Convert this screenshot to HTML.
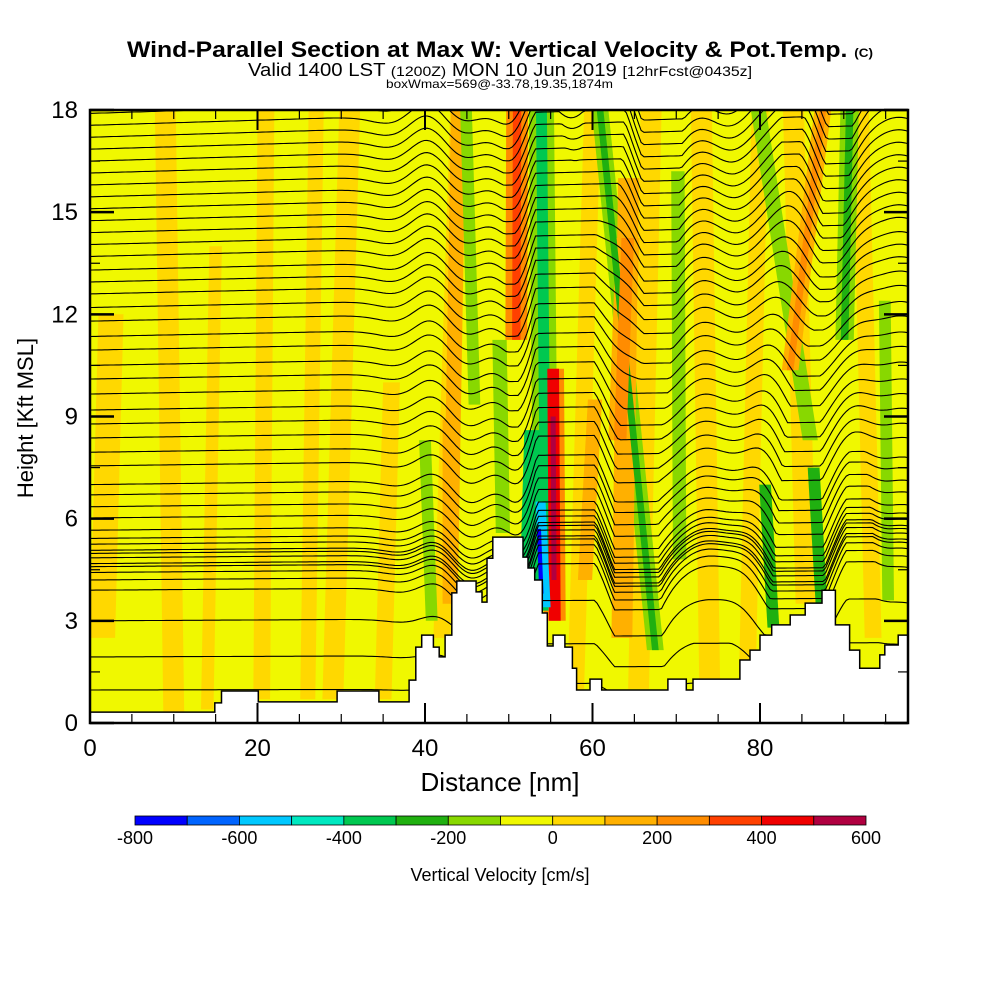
<!DOCTYPE html>
<html><head><meta charset="utf-8"><style>
body{margin:0;background:#fff;width:1000px;height:1000px;overflow:hidden}
svg{display:block;font-family:"Liberation Sans",sans-serif}
</style></head><body>
<svg id="chart" width="1000" height="1000" viewBox="0 0 1000 1000">
<g>
<text x="127" y="57" textLength="746" lengthAdjust="spacingAndGlyphs" font-size="22" font-weight="bold">Wind-Parallel Section at Max W: Vertical Velocity &amp; Pot.Temp. <tspan font-size="12">(C)</tspan></text>
<text x="248" y="76" textLength="504" lengthAdjust="spacingAndGlyphs" font-size="18">Valid 1400 LST <tspan font-size="14">(1200Z)</tspan> MON 10 Jun 2019 <tspan font-size="14">[12hrFcst@0435z]</tspan></text>
<text x="386" y="88" textLength="227" lengthAdjust="spacingAndGlyphs" font-size="12">boxWmax=569@-33.78,19.35,1874m</text>
</g>
<defs><clipPath id="plotclip"><rect x="90" y="110" width="818" height="613"/></clipPath></defs>
<g id="field" clip-path="url(#plotclip)"></g>
<g id="contours" clip-path="url(#plotclip)"></g>
<g id="terrain" clip-path="url(#plotclip)"></g>
<g id="axes"></g>
<text x="500" y="791" text-anchor="middle" font-size="26">Distance [nm]</text>
<text transform="translate(33,418) rotate(-90)" text-anchor="middle" font-size="22">Height [Kft MSL]</text>
<g id="colorbar"></g>
<text x="500" y="881" text-anchor="middle" font-size="18">Vertical Velocity [cm/s]</text>
</svg>
<script>
// ---- data ----
const cbLevels = [-800,-700,-600,-500,-400,-300,-200,-100,0,100,200,300,400,500,600];
const cbColors = ["#0000ff","#0064ff","#00c8ff","#00e8c0","#00c850","#20b010","#88d800","#f0f800","#ffd800","#ffb000","#ff8c00","#ff4000","#f00000","#b00040"];
const cbTickLabels = [-800,-600,-400,-200,0,200,400,600];
const xTicks = [0,20,40,60,80];
const yTicks = [0,3,6,9,12,15,18];
// terrain step profile (nm start, kft height)
const terrainX = [0,14.9,15.7,20.1,29.5,34.5,38.0,38.1,38.9,39.6,41.0,41.7,42.4,43.2,43.8,46.1,46.8,47.4,48.1,51.7,52.3,53.1,54.0,54.6,55.3,56.7,57.6,58.1,59.7,61.1,69.0,71.2,72.0,77.6,78.8,80.0,81.4,83.6,85.4,87.4,89.0,90.7,91.9,94.3,94.9,96.5];
const terrainH = [0.32,0.59,0.94,0.62,0.94,0.62,0.62,1.26,2.23,2.58,2.23,1.94,2.58,3.82,4.17,3.85,3.55,4.84,5.46,4.87,4.55,4.2,3.23,2.26,2.58,2.23,1.61,0.97,1.29,0.97,1.29,0.97,1.29,1.85,2.14,2.58,2.88,3.17,3.52,3.9,2.88,2.14,1.61,2.0,2.29,2.58];
// velocity bands: bottom (nm,kft), top (nm,kft), width nm, value cm/s
const bandXb = [1.5,10,14,20.5,26,29,35,42,43,58,65.5,74,78.5,85.5,93.5, 40.8,43,49.3,44.9+1,50.9,50.9,53,54.4,54.3,54.3,52.6,53.9,55.5,55.5,55.4,67.5,67.5,63.3,63.3,70.4,86,81.6,87.5,83.6,83.6,90.1,90.1,95.3,59.1,63.5];
const bandYb = [2.5,0.3,0.4,0.7,0.7,0.7,0.7,2.5,3.5,1.0,1.0,1.0,1.5,3.5,2.5, 3.0,3.6,5.58,9.35,11.25,11.25,3.3,3.4,8.0,8.0,5.0,3.8,3.0,3.0,4.2,2.14,2.14,8.3,8.3,4.8,8.3,2.8,2.8,10.36,10.36,11.25,11.25,3.6,4.2,2.5];
const bandXt = [2.5,9,15,21,27,31,36,44,44,60,67,73,80,84,92, 40.0,43,48.9,44.9,51.0,51.0,53.6,53.8,53.9,53.9,52.9,53.6,55.3,55.3,55.3,60.9,60.9,64.2,64.2,70.2,79.8,80.6,86.4,87.5,87.5,90.7,90.7,94.9,60.3,64.3];
const bandYt = [12,18,14,18,18,18,10,18,18,18,18,18,18,18,18, 8.3,8.9,11.25,18,18,18,8.6,6.5,18,18,8.0,5.7,10.4,10.4,9.0,18,18,14.24,14.24,16.2,18,7.0,7.5,18,18,18,18,12.4,9.5,16];
const bandW = [3,2.5,1.5,2,1.8,2.5,2,2,1.8,2,2.5,2.5,2,2.5,2, 1.4,1.8,1.7,1.4,2.6,1.0,3.5,1.2,3.0,1.3,1.8,0.5,2.6,1.4,0.6,2.0,0.8,2.8,1.5,1.6,1.8,1.4,1.4,2.0,0.8,2.2,0.9,1.4,1.7,2.5];
const bandV = [50,50,50,50,50,50,50,50,150,50,50,50,50,50,50, -150,150,-150,-150,250,350,-350,-550,-150,-350,-250,-750,250,450,550,-150,-250,150,250,-150,-150,-250,-250,150,250,-150,-250,-150,150,150];
// potential temperature contour base heights at left edge (kft)
const thetaBase = [0.97,1.94,3.0,3.9,4.2,4.42,4.59,4.68,4.85,4.98,5.07,5.25,5.42,5.66,6.02,6.35,6.7,7.0,7.55,7.95,8.37,8.78,9.19,9.66,10.1,10.5,10.95,11.35,11.8,12.2,12.6,12.95,13.3,13.7,14.05,14.4,14.75,15.1,15.45,15.8,16.15,16.5,16.85,17.2,17.55,17.9];
// ---- axes ----
const X0=90,X1=908,Y0=723,Y1=110, XMAX=97.67, YMAX=18;
const sx = v => X0 + (X1-X0)*v/XMAX;
const sy = v => Y0 - (Y0-Y1)*v/YMAX;
const NS="http://www.w3.org/2000/svg";
function mk(tag, parent){const e=document.createElementNS(NS,tag);parent.appendChild(e);return e;}
function colorOf(v){let i=Math.floor((v-cbLevels[0])/100);i=Math.max(0,Math.min(cbColors.length-1,i));return cbColors[i];}
const field=document.getElementById('field');
const bg=mk('rect',field);


bg.setAttribute('x',X0);bg.setAttribute('y',Y1);bg.setAttribute('width',X1-X0);bg.setAttribute('height',Y0-Y1);bg.setAttribute('fill',colorOf(-50));
const order=bandV.map((v,i)=>i).sort((a,b)=>Math.abs(bandV[a])-Math.abs(bandV[b]));
order.forEach(i=>{
 const p=mk('polygon',field);
 
 
 const w=bandW[i]/2;
 const pts=[[bandXb[i]-w,bandYb[i]],[bandXb[i]+w,bandYb[i]],[bandXt[i]+w,bandYt[i]],[bandXt[i]-w,bandYt[i]]];
 p.setAttribute('points',pts.map(q=>sx(q[0]).toFixed(1)+','+sy(q[1]).toFixed(1)).join(' '));
 p.setAttribute('fill',colorOf(bandV[i]));
});
// contours
const cg=document.getElementById('contours');
function bandCenterAt(i,h){const t=(h-bandYb[i])/(bandYt[i]-bandYb[i]);return bandXb[i]+(bandXt[i]-bandXb[i])*t;}
thetaBase.forEach((h0,k)=>{
 const pl=mk('polyline',cg);
 
 
 const pts=[];
 for(let x=0;x<=XMAX;x+=0.35){
  let d=0;
  const damp=Math.min(1,Math.max(0,(x-22)/18))*Math.min(1,h0/4);
  for(let i=15;i<bandV.length;i++){
   const c=bandCenterAt(i,h0);const dx=x-c;
   const s=bandW[i]+1.5;
   d+= -Math.sign(bandV[i])*0.6*(dx/s)*Math.exp(-dx*dx/(2*s*s));
  }
  d=Math.max(-0.7,Math.min(0.7,d));
  pts.push(sx(x).toFixed(1)+','+sy(h0+0.25*x/XMAX*h0/6+d*damp).toFixed(1));
 }
 pl.setAttribute('points',pts.join(' '));
 pl.setAttribute('fill','none');pl.setAttribute('stroke','#000');pl.setAttribute('stroke-width','1.1');
});
// terrain
const tg=document.getElementById('terrain');
let d='M'+sx(0)+','+(Y0+2);
terrainX.forEach((x,i)=>{const xe=i<terrainX.length-1?terrainX[i+1]:XMAX;d+=' L'+sx(x).toFixed(1)+','+sy(terrainH[i]).toFixed(1)+' L'+sx(xe).toFixed(1)+','+sy(terrainH[i]).toFixed(1);});
d+=' L'+X1+','+(Y0+2)+' Z';
const tp=mk('path',tg);


tp.setAttribute('d',d);tp.setAttribute('fill','#fff');tp.setAttribute('stroke','#000');tp.setAttribute('stroke-width','1.5');
// axes
const ax=document.getElementById('axes');
const fr=mk('rect',ax);


fr.setAttribute('x',X0);fr.setAttribute('y',Y1);fr.setAttribute('width',X1-X0);fr.setAttribute('height',Y0-Y1);fr.setAttribute('fill','none');fr.setAttribute('stroke','#000');fr.setAttribute('stroke-width','2.5');
for(let v=0;v<=XMAX;v+=5){
 const maj=v%20===0; const L=maj?20:9;
 [[Y0,Y0-L],[Y1,Y1+L]].forEach(p=>{const l=mk('line',ax);
  
  
  l.setAttribute('x1',sx(v));l.setAttribute('x2',sx(v));l.setAttribute('y1',p[0]);l.setAttribute('y2',p[1]);l.setAttribute('stroke','#000');l.setAttribute('stroke-width',maj?2:1.2);});
}
xTicks.forEach(v=>{const t=mk('text',ax);
 
 
 t.setAttribute('x',sx(v));t.setAttribute('y',756);t.setAttribute('text-anchor','middle');t.setAttribute('font-size','24');t.textContent=v;});
for(let v=0;v<=YMAX;v+=1.5){
 const maj=v%3===0; const L=maj?24:10;
 [[X0,X0+L],[X1,X1-L]].forEach(p=>{const l=mk('line',ax);
  
  
  l.setAttribute('y1',sy(v));l.setAttribute('y2',sy(v));l.setAttribute('x1',p[0]);l.setAttribute('x2',p[1]);l.setAttribute('stroke','#000');l.setAttribute('stroke-width',maj?2.5:1.2);});
}
yTicks.forEach(v=>{const t=mk('text',ax);
 
 
 t.setAttribute('x',78);t.setAttribute('y',sy(v)+8);t.setAttribute('text-anchor','end');t.setAttribute('font-size','24');t.textContent=v;});
// colorbar
const cb=document.getElementById('colorbar');
const CX0=135,CX1=866,CY=816,CH=9;
const cw=(CX1-CX0)/cbColors.length;
cbColors.forEach((c,i)=>{const r=mk('rect',cb);
 
 
 r.setAttribute('x',CX0+i*cw);r.setAttribute('y',CY);r.setAttribute('width',cw);r.setAttribute('height',CH);r.setAttribute('fill',c);r.setAttribute('stroke','#000');r.setAttribute('stroke-width','0.8');});
cbTickLabels.forEach(v=>{const t=mk('text',cb);
 
 
 const x=CX0+(v-cbLevels[0])/100*cw;
 t.setAttribute('x',x);t.setAttribute('y',844);t.setAttribute('text-anchor','middle');t.setAttribute('font-size','18');t.textContent=v;});
</script>
</body></html>
